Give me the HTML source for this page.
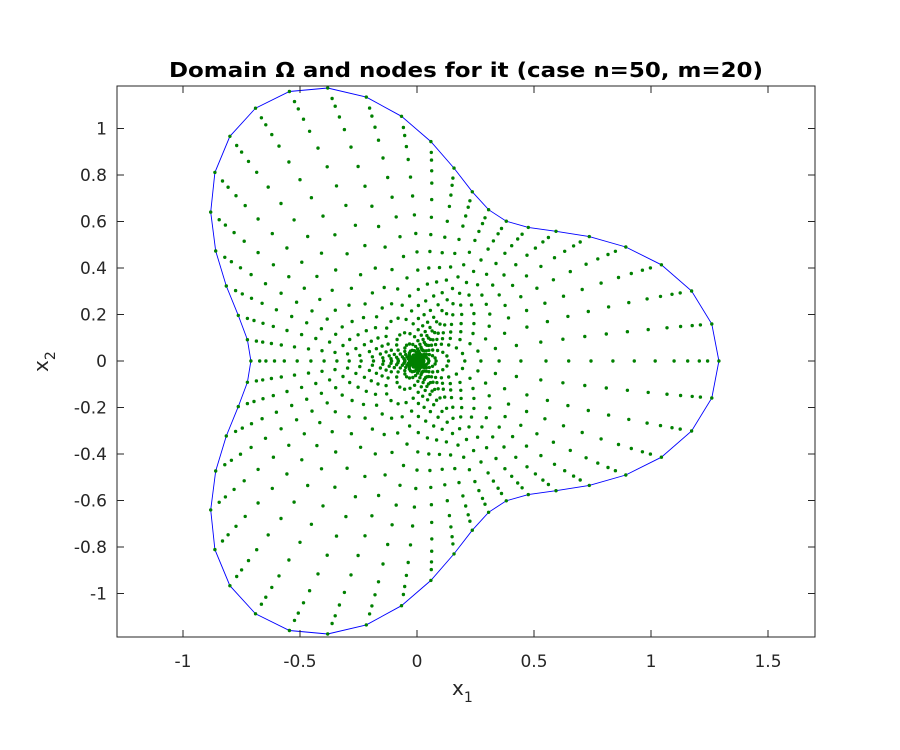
<!DOCTYPE html>
<html><head><meta charset="utf-8"><style>
html,body{margin:0;padding:0;background:#fff;}
svg{display:block;font-family:"DejaVu Sans","Liberation Sans",sans-serif;}
</style></head><body>
<svg id="chart" width="900" height="750" viewBox="0 0 900 750">
<rect width="900" height="750" fill="#fff"/>
<text x="466" y="77" text-anchor="middle" font-size="20" font-weight="bold" fill="#000" textLength="594" lengthAdjust="spacingAndGlyphs">Domain Ω and nodes for it (case n=50, m=20)</text>
<g id="plot"></g>
<rect x="117" y="86" width="698" height="551" fill="none" stroke="#262626" stroke-width="1"/>
<g id="axes" font-size="17" fill="#262626"></g>
<text x="452" y="695" font-size="20" fill="#262626">x<tspan font-size="14" dy="7">1</tspan></text>
<text transform="translate(48,372) rotate(-90)" font-size="20" fill="#262626">x<tspan font-size="14" dy="7">2</tspan></text>
</svg>
<script>
const xTicks=[-1,-0.5,0,0.5,1,1.5];
const xTickLabels=["-1","-0.5","0","0.5","1","1.5"];
const yTicks=[-1,-0.8,-0.6,-0.4,-0.2,0,0.2,0.4,0.6,0.8,1];
const yTickLabels=["-1","-0.8","-0.6","-0.4","-0.2","0","0.2","0.4","0.6","0.8","1"];
const boundaryCoef=[1,0.29]; // r(t)=a+b*cos(3t)
const nAngles=[50];
const levels=[1,0.957,0.926,0.883,0.833,0.765,0.691,0.617,0.543,0.469,0.395,0.315,0.247,0.191,0.142,0.093,0.056,0.035,0.02,0.01];
const X=v=>417+234*v, Y=v=>361-232.5*v;
const NS="http://www.w3.org/2000/svg";
const plot=document.getElementById('plot'), axes=document.getElementById('axes');
function mk(t,a,p){const e=document.createElementNS(NS,t);for(const k in a)e.setAttribute(k,a[k]);(p||plot).appendChild(e);return e;}
const r=t=>boundaryCoef[0]+boundaryCoef[1]*Math.cos(3*t);
let pts=[];
for(let k=0;k<=nAngles[0];k++){const t=2*Math.PI*k/nAngles[0];pts.push(X(r(t)*Math.cos(t)).toFixed(1)+","+Y(r(t)*Math.sin(t)).toFixed(1));}
const b=mk('polyline',{points:pts.join(" "),fill:"none",stroke:"#0000ff","stroke-width":0.9});


const g=mk('g',{fill:"#008000"});


levels.forEach(rho=>{
 for(let k=0;k<nAngles[0];k++){
  const t0=2*Math.PI*k/nAngles[0];
  const t=t0+0.12*Math.sin(3*t0)*(1-rho);
  const bb=boundaryCoef[1]*(1+0.6*(1-rho));
  const rr=rho*(boundaryCoef[0]+bb*Math.cos(3*t));
  const c=mk('circle',{cx:X(rr*Math.cos(t)).toFixed(1),cy:Y(rr*Math.sin(t)).toFixed(1),r:1.7},g);
  
  
 }
});
xTicks.forEach((v,i)=>{
 const x=X(v);
 const l=mk('path',{d:`M${x},637v-7M${x},86v7`,stroke:"#262626"},axes);
 
 
 const t=mk('text',{x:x,y:667,"text-anchor":"middle"},axes);t.textContent=xTickLabels[i];
 
 
});
yTicks.forEach((v,i)=>{
 const y=Y(v);
 const l=mk('path',{d:`M117,${y}h7M815,${y}h-7`,stroke:"#262626"},axes);
 
 
 const t=mk('text',{x:107,y:y+6,"text-anchor":"end"},axes);t.textContent=yTickLabels[i];
 
 
});
</script>
</body></html>
